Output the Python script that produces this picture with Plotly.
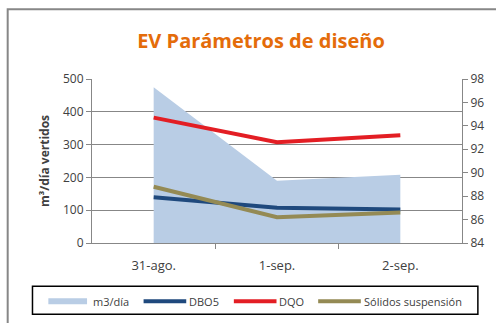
import plotly.graph_objects as go

# Daily design parameters
categories = ["31-ago.", "1-sep.", "2-sep."]
caudal_m3_dia = [475, 190, 208]
dbo5 = [87.9, 87.0, 86.85]
dqo = [94.7, 92.6, 93.2]
solidos_suspension = [88.8, 86.2, 86.6]

left_ticks = [0, 100, 200, 300, 400, 500]
right_ticks = [84, 86, 88, 90, 92, 94, 96, 98]

x = list(range(len(categories)))
font = "Open Sans"
grey = "#878787"
text_color = "#404040"

series = [
    dict(name="m3/día", y=caudal_m3_dia, color="#B9CDE5", area=True),
    dict(name="DBO5", y=dbo5, color="#1F497D", area=False),
    dict(name="DQO", y=dqo, color="#E31E24", area=False),
    dict(name="Sólidos suspensión", y=solidos_suspension, color="#948A54", area=False),
]

fig = go.Figure()
for s in series:
    if s["area"]:
        fig.add_trace(go.Scatter(
            x=x, y=s["y"], name=s["name"], mode="lines",
            line=dict(width=0, color=s["color"]), fill="tozeroy", fillcolor=s["color"],
        ))
    else:
        fig.add_trace(go.Scatter(
            x=x, y=s["y"], name=s["name"], mode="lines", yaxis="y2",
            line=dict(width=4, color=s["color"]),
        ))

# pixel -> paper helpers
W, H = 496, 323
l, r, t, b = 92, 31, 79, 79.5
pw, ph = W - l - r, H - t - b
def px(xp):
    return (xp - l) / pw
def py(yp):
    return (H - b - yp) / ph

# outer chart frame
fig.add_shape(type="rect", xref="paper", yref="paper",
              x0=px(7), x1=px(505), y0=py(335), y1=py(9),
              line=dict(color=grey, width=2), layer="below")

# legend box with swatches and labels
fig.add_shape(type="rect", xref="paper", yref="paper",
              x0=px(32), x1=px(481), y0=py(315), y1=py(287),
              line=dict(color="#000000", width=1.5), fillcolor="white")
legend_items = [(48, 87, 91), (144, 187, 188), (235, 278, 279), (320, 363, 364)]
ly = 302
for s, (sx0, sx1, tx) in zip(series, legend_items):
    fig.add_shape(type="line", xref="paper", yref="paper",
                  x0=px(sx0), x1=px(sx1), y0=py(ly), y1=py(ly),
                  line=dict(color=s["color"], width=6 if s["area"] else 4))
    fig.add_annotation(xref="paper", yref="paper", x=px(tx), y=py(ly),
                       xanchor="left", yanchor="middle", showarrow=False,
                       text=s["name"], font=dict(family=font, size=11, color=text_color))

fig.update_layout(
    width=W, height=H,
    margin=dict(l=l, r=r, t=t, b=b),
    paper_bgcolor="white", plot_bgcolor="white",
    font=dict(family=font, size=12, color=text_color),
    showlegend=False,
    title=dict(text="<b>EV Parámetros de diseño</b>", xref="container", x=261 / W,
               xanchor="center", yref="container", y=1 - 41 / H, yanchor="middle",
               font=dict(family=font, size=20, color="#E46C0A")),
    xaxis=dict(
        range=[-0.5, len(categories) - 0.5],
        tickvals=x, ticktext=categories, ticks="", showgrid=False,
        showline=True, linecolor=grey, linewidth=1,
        minor=dict(tickvals=[0.5, 1.5], ticks="outside", ticklen=5, tickcolor=grey, showgrid=False),
        tickfont=dict(size=13, color=text_color), ticklabelstandoff=10, zeroline=False,
    ),
    yaxis=dict(
        range=[0, 500], tickvals=left_ticks, ticks="outside", ticklen=5, tickcolor=grey,
        showgrid=True, gridcolor=grey, gridwidth=1,
        showline=True, linecolor=grey, linewidth=1, zeroline=False,
        tickfont=dict(size=12, color=text_color),
        title=dict(text="<b>m³/día vertidos</b>", font=dict(size=12, color=text_color), standoff=10),
    ),
    yaxis2=dict(
        range=[84, 98], tickvals=right_ticks, overlaying="y", side="right",
        ticks="outside", ticklen=5, tickcolor=grey, showgrid=False,
        showline=True, linecolor=grey, linewidth=1, zeroline=False,
        tickfont=dict(size=12, color=text_color),
    ),
)

fig.write_html("out.html")
